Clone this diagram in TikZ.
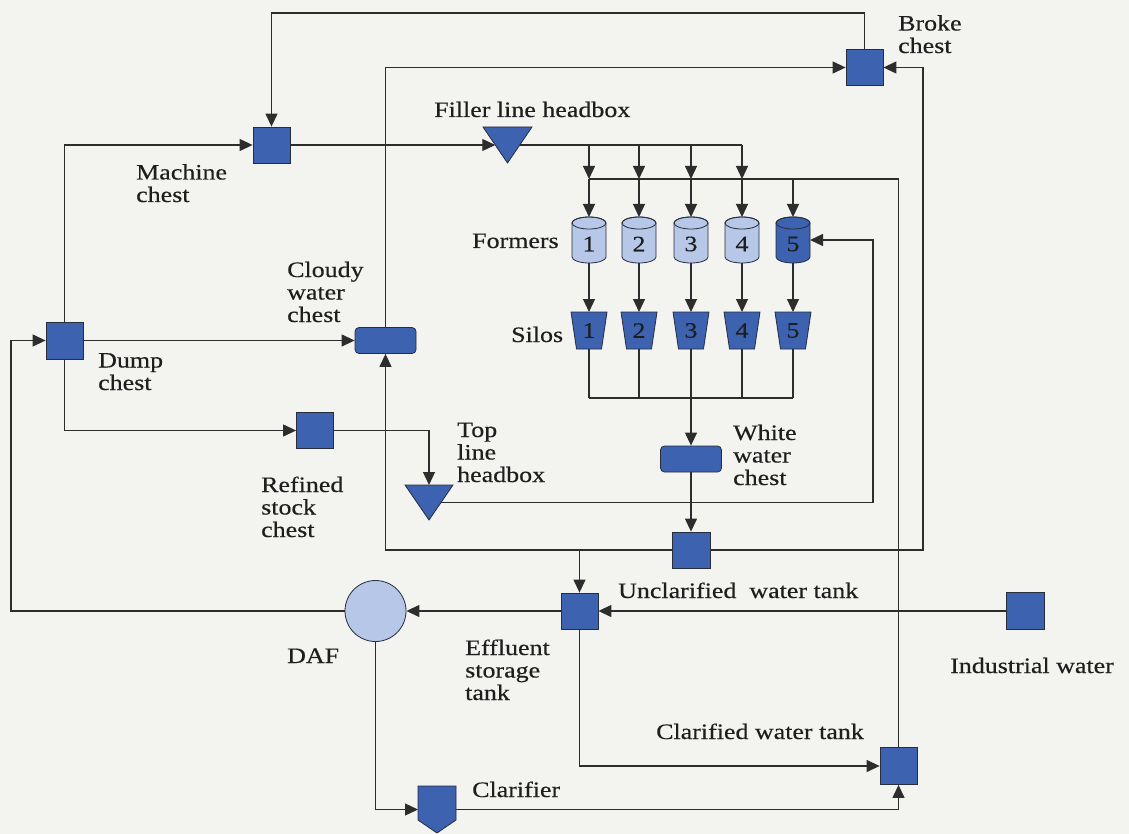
\documentclass[tikz,border=0pt]{standalone}
\usepackage{fontspec}
\setmainfont{Liberation Serif}[FakeStretch=1.18,FakeBold=0.4]
\usetikzlibrary{arrows.meta,calc}
\definecolor{bg}{RGB}{243,243,240}
\definecolor{boxblue}{RGB}{60,98,176}
\definecolor{lightblue}{RGB}{182,199,232}
\definecolor{edgec}{RGB}{40,45,60}
\definecolor{linec}{RGB}{45,45,45}
\definecolor{textc}{RGB}{30,30,30}
\tikzset{
  pipe/.style={draw=linec, line width=1.2pt},
  flow/.style={pipe, -{Triangle[length=13pt,width=12pt]}},
  tank/.style={rectangle, draw=edgec, fill=boxblue, line width=0.8pt,
    minimum width=37pt, minimum height=36pt, inner sep=0pt},
  chest/.style={tank, rounded corners=4pt, minimum width=61pt, minimum height=26pt},
  ghost/.style={rectangle, inner sep=0pt, outer sep=0pt, draw=none},
  shapefill/.style={fill=#1, draw=edgec, line width=0.8pt},
  lbl/.style={anchor=base west, inner sep=0pt, align=left, text=textc},
  num/.style={inner sep=0pt, text=textc}
}
\begin{document}
\begin{tikzpicture}[x=1pt,y=-1pt,font=\fontsize{22}{22.5}\selectfont]
\useasboundingbox (0,0) rectangle (1129,834);
\fill[bg] (0,0) rectangle (1129,834);

% helper coordinates for routing
\coordinate (ytop) at (0,13);
\coordinate (busf) at (0,145);
\coordinate (busc) at (0,179);
\coordinate (buss) at (0,398);
\coordinate (xr) at (923,0);
\coordinate (xf) at (873,0);
\coordinate (xl) at (11,0);

% tanks and chests
\node[tank] (broke) at (864.5,67.5) {};
\node[tank] (mach) at (271.5,145) {};
\node[tank, minimum height=37pt] (dump) at (64.5,340.5) {};
\node[chest] (cloudy) at (385.5,340.5) {};
\node[tank] (refined) at (315,430.5) {};
\node[chest] (ww) at (691,459) {};
\node[tank, minimum width=38pt] (unc) at (691,550) {};
\node[tank] (eff) at (579.5,611) {};
\node[tank, minimum width=38pt, minimum height=37pt] (ind) at (1025,611) {};
\node[tank, minimum height=37pt] (clt) at (898.5,766) {};
\node[circle, draw=edgec, fill=lightblue, line width=0.8pt, minimum size=61pt, inner sep=0pt] (daf) at (375.5,611) {};

% headboxes
\node[ghost, minimum width=49pt, minimum height=36pt] (fh) at (507.5,145) {};
\filldraw[shapefill=boxblue] (fh.north west) -- (fh.north east) -- (fh.south) -- cycle;
\coordinate (fhin) at ($(fh.north west)!0.5!(fh.south)$);
\coordinate (fhout) at ($(fh.north east)!0.5!(fh.south)$);
\node[ghost, minimum width=48pt, minimum height=35pt] (th) at (429,502.5) {};
\filldraw[shapefill=boxblue] (th.north west) -- (th.north east) -- (th.south) -- cycle;
\coordinate (thout) at ($(th.north east)!0.5!(th.south)$);

% clarifier
\node[ghost, minimum width=38pt, minimum height=47pt] (clar) at (437,809.5) {};
\filldraw[shapefill=boxblue] (clar.north west) -- (clar.north east) -- ([yshift=13pt]clar.south east)
  -- (clar.south) -- ([yshift=13pt]clar.south west) -- cycle;

% formers and silos
\foreach \i/\x/\col in {1/589/lightblue,2/639/lightblue,3/691/lightblue,4/742/lightblue,5/793/boxblue}{
  \node[ghost, minimum width=34pt, minimum height=46pt] (f\i) at (\x,240) {};
  \filldraw[shapefill=\col] ([yshift=-6pt]f\i.north west) -- ([yshift=6pt]f\i.south west)
     arc[start angle=180, end angle=360, x radius=17pt, y radius=6pt]
     -- ([yshift=-6pt]f\i.north east)
     arc[start angle=0, end angle=180, x radius=17pt, y radius=6pt] -- cycle;
  \draw[draw=edgec, line width=0.8pt] ([yshift=-6pt]f\i.north) ellipse [x radius=17pt, y radius=6pt];
  \node[num] (fn\i) at ([yshift=-4pt]f\i.center) {\i};
  \node[ghost, minimum width=36pt, minimum height=37pt] (s\i) at (\x,330.5) {};
  \filldraw[shapefill=boxblue] (s\i.north west) -- (s\i.north east) -- ([xshift=-5.5pt]s\i.south east)
     -- ([xshift=5.5pt]s\i.south west) -- cycle;
  \node[num] (sn\i) at (s\i.center) {\i};
}

% connectors
\draw[flow] (broke.north) -- (broke.north |- ytop) -| (mach.north);
\draw[flow] (cloudy.north) |- (broke.west);
\draw[flow] (unc.east) -- (xr |- unc.east) |- (broke.east);
\draw[flow] (dump.north) |- (mach.west);
\draw[flow] (mach.east) -- (fhin);
\draw[pipe] (fhout) -- (f4.north |- busf);
\foreach \i in {1,2,3,4}{
  \draw[flow] (f\i.north |- busf) -- (f\i.north |- busc);
}
\draw[pipe] (clt.north) -- (clt.north |- busc) -- (f1.north |- busc);
\foreach \i in {1,2,3,4,5}{
  \draw[flow] (f\i.north |- busc) -- (f\i.north);
  \draw[flow] (f\i.south) -- (s\i.north);
  \draw[pipe] (s\i.south) -- (s\i.south |- buss);
}
\draw[pipe] (s1.south |- buss) -- (s5.south |- buss);
\draw[flow] (s3.south |- buss) -- (ww.north);
\draw[flow] (ww.south) -- (unc.north);
\draw[flow] (unc.west) -| (cloudy.south);
\draw[flow] (eff.north |- unc.west) -- (eff.north);
\draw[flow] (dump.east) -- (cloudy.west);
\draw[flow] (dump.south) |- (refined.west);
\draw[flow] (refined.east) -| (th.north);
\draw[flow] (thout) -- (thout -| xf) |- (f5.east);
\draw[flow] (ind.west) -- (eff.east);
\draw[flow] (eff.west) -- (daf.east);
\draw[flow] (daf.west) -- (xl |- daf.west) |- (dump.west);
\draw[flow] (daf.south) |- (clar.west);
\draw[flow] (clar.east) -| (clt.south);
\draw[flow] (eff.south) |- (clt.west);

% labels (anchor = baseline of the last line)
\node[lbl] (lbroke) at (898,53) {Broke\\chest};
\node[lbl] (lmach) at (136,202) {Machine\\chest};
\node[lbl] (lfh) at (434,117) {Filler line headbox};
\node[lbl] (lcloudy) at (287,322) {Cloudy\\water\\chest};
\node[lbl] (lformers) at (472,248) {Formers};
\node[lbl] (lsilos) at (511,342) {Silos};
\node[lbl] (ldump) at (98,390) {Dump\\chest};
\node[lbl] (lrefined) at (261,537) {Refined\\stock\\chest};
\node[lbl] (lth) at (457,482) {Top\\line\\headbox};
\node[lbl] (lww) at (733,485) {White\\water\\chest};
\node[lbl] (lunc) at (618,598) {Unclarified\ \ water tank};
\node[lbl] (ldaf) at (287,663) {DAF};
\node[lbl] (leff) at (465,700) {Effluent\\storage\\tank};
\node[lbl] (lind) at (950,673) {Industrial water};
\node[lbl] (lclt) at (656,739) {Clarified water tank};
\node[lbl] (lclar) at (472,797) {Clarifier};
\end{tikzpicture}
\end{document}
